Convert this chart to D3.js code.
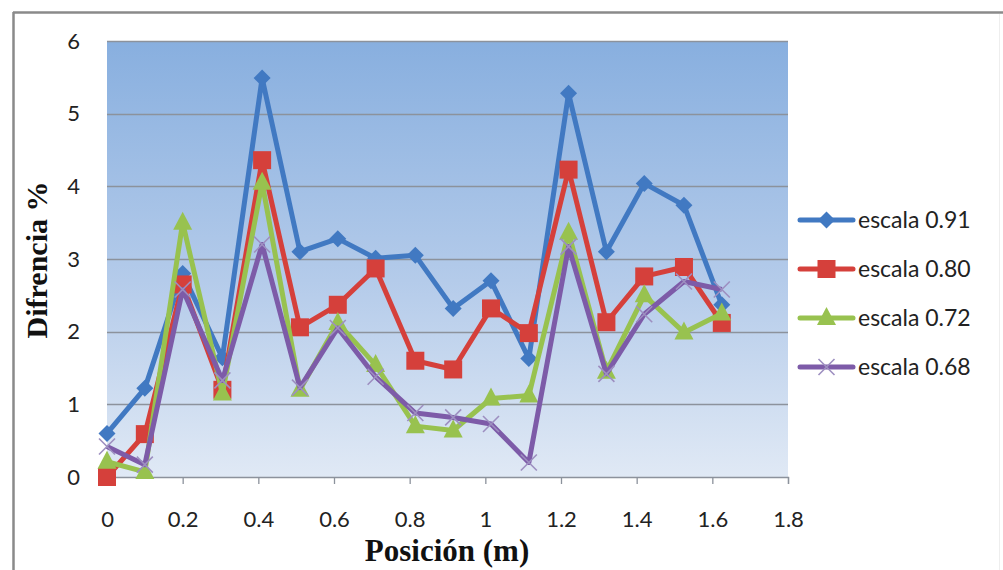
<!DOCTYPE html>
<html>
<head>
<meta charset="utf-8">
<script src="https://cdn.jsdelivr.net/npm/d3@7"></script>
<style>
  html, body { margin: 0; padding: 0; background: #fff; }
  svg { display: block; }
</style>
</head>
<body>
<svg id="chart" width="1003" height="570"></svg>
<script>
// Measurement positions along the section (m)
const posiciones = [0, 0.10, 0.20, 0.305, 0.41, 0.51, 0.61, 0.71, 0.815, 0.915, 1.015, 1.115, 1.22, 1.32, 1.42, 1.525, 1.625];

// Percentage difference for each model scale
const escala091 = [0.60, 1.22, 2.80, 1.64, 5.49, 3.10, 3.28, 3.01, 3.05, 2.32, 2.70, 1.63, 5.28, 3.10, 4.04, 3.74, 2.37];
const escala080 = [0.00, 0.59, 2.65, 1.20, 4.36, 2.06, 2.37, 2.87, 1.60, 1.48, 2.32, 1.98, 4.23, 2.13, 2.76, 2.89, 2.12];
const escala072 = [0.21, 0.07, 3.50, 1.15, 4.05, 1.20, 2.12, 1.54, 0.70, 0.64, 1.08, 1.12, 3.36, 1.45, 2.50, 1.99, 2.25];
const escala068 = [0.42, 0.17, 2.58, 1.33, 3.20, 1.23, 2.05, 1.38, 0.88, 0.82, 0.73, 0.20, 3.17, 1.42, 2.24, 2.69, 2.58];

const seriesNames = ["escala 0.91", "escala 0.80", "escala 0.72", "escala 0.68"];
const seriesValues = [escala091, escala080, escala072, escala068];
const seriesColors = ["#4179c2", "#d5403b", "#98c24f", "#7d5ba8"];
const seriesMarkers = ["diamond", "square", "triangle", "cross"];

const xTicks = [0, 0.2, 0.4, 0.6, 0.8, 1, 1.2, 1.4, 1.6, 1.8];
const yTicks = [0, 1, 2, 3, 4, 5, 6];

const svg = d3.select("#chart");
const plot = { left: 107, right: 788, top: 41, bottom: 477 };

const x = d3.scaleLinear().domain([0, 1.8]).range([plot.left, plot.right]);
const y = d3.scaleLinear().domain([0, 6]).range([plot.bottom, plot.top]);

// Chart frame
svg.append("line").attr("x1", 13).attr("x2", 1003).attr("y1", 12.5).attr("y2", 12.5)
  .attr("stroke", "#8a8a8a").attr("stroke-width", 2.5);
svg.append("line").attr("x1", 13.5).attr("x2", 13.5).attr("y1", 12).attr("y2", 570)
  .attr("stroke", "#8a8a8a").attr("stroke-width", 2.5);
svg.append("line").attr("x1", 999.5).attr("x2", 999.5).attr("y1", 14).attr("y2", 570)
  .attr("stroke", "#eeeeee").attr("stroke-width", 1);

// Plot area gradient
const defs = svg.append("defs");
const grad = defs.append("linearGradient").attr("id", "plotBg")
  .attr("x1", 0).attr("y1", 0).attr("x2", 0).attr("y2", 1);
grad.append("stop").attr("offset", "0%").attr("stop-color", "#88afdf");
grad.append("stop").attr("offset", "55%").attr("stop-color", "#b4cbea");
grad.append("stop").attr("offset", "100%").attr("stop-color", "#e0e9f5");

svg.append("rect")
  .attr("x", plot.left).attr("y", plot.top)
  .attr("width", plot.right - plot.left).attr("height", plot.bottom - plot.top)
  .attr("fill", "url(#plotBg)");

// Horizontal gridlines
svg.append("g").selectAll("line").data(yTicks.filter(d => d > 0)).join("line")
  .attr("x1", plot.left).attr("x2", plot.right)
  .attr("y1", d => Math.round(y(d)) + 0.5).attr("y2", d => Math.round(y(d)) + 0.5)
  .attr("stroke", "#8c929c").attr("stroke-width", 1.3);

// X axis
const xAxis = svg.append("g")
  .attr("transform", `translate(0,${plot.bottom})`)
  .call(d3.axisBottom(x).tickValues(xTicks).tickFormat(d3.format("")).tickSize(7).tickPadding(27));
xAxis.select(".domain").attr("stroke", "#8c929c").attr("stroke-width", 1.3);
xAxis.selectAll(".tick line").attr("stroke", "#8c929c").attr("stroke-width", 1.3);
xAxis.selectAll("text").attr("font-family", "Lato, 'Open Sans', sans-serif")
  .attr("font-size", 22).attr("fill", "#222");

// Y axis (labels only)
const yAxis = svg.append("g")
  .attr("transform", `translate(${plot.left},0)`)
  .call(d3.axisLeft(y).tickValues(yTicks).tickFormat(d3.format("d")).tickSize(0).tickPadding(27));
yAxis.select(".domain").remove();
yAxis.selectAll("text").attr("font-family", "Lato, 'Open Sans', sans-serif")
  .attr("font-size", 22).attr("fill", "#222");

// Axis titles
svg.append("text")
  .attr("x", 447).attr("y", 561)
  .attr("text-anchor", "middle")
  .attr("font-family", "'Liberation Serif', 'Times New Roman', serif")
  .attr("font-weight", "bold").attr("font-size", 31).attr("fill", "#111")
  .text("Posición (m)");

svg.append("text")
  .attr("transform", "translate(47,260) rotate(-90)")
  .attr("text-anchor", "middle")
  .attr("font-family", "'Liberation Serif', 'Times New Roman', serif")
  .attr("font-weight", "bold").attr("font-size", 30).attr("fill", "#111")
  .text("Difrencia %");

// Marker drawing helper
function drawMarker(g, type, color, cx, cy) {
  if (type === "diamond") {
    g.append("path")
      .attr("d", `M${cx},${cy - 8.5}L${cx + 8.5},${cy}L${cx},${cy + 8.5}L${cx - 8.5},${cy}Z`)
      .attr("fill", color);
  } else if (type === "square") {
    g.append("rect").attr("x", cx - 9).attr("y", cy - 9).attr("width", 18).attr("height", 18)
      .attr("fill", color);
  } else if (type === "triangle") {
    g.append("path")
      .attr("d", `M${cx},${cy - 11}L${cx + 9.5},${cy + 7}L${cx - 9.5},${cy + 7}Z`)
      .attr("fill", color);
  } else if (type === "cross") {
    g.append("path")
      .attr("d", `M${cx - 8},${cy - 8}L${cx + 8},${cy + 8}M${cx - 8},${cy + 8}L${cx + 8},${cy - 8}`)
      .attr("stroke", "#9d8fc0").attr("stroke-width", 1.6).attr("fill", "none");
  }
}

const line = d3.line().x(d => x(d[0])).y(d => y(d[1]));

const seriesLayer = svg.append("g");
seriesValues.forEach((vals, i) => {
  const pts = posiciones.map((p, k) => [p, vals[k]]);
  const g = seriesLayer.append("g");
  g.append("path").datum(pts)
    .attr("d", line)
    .attr("fill", "none")
    .attr("stroke", seriesColors[i])
    .attr("stroke-width", 5)
    .attr("stroke-linejoin", "round");
  pts.forEach(p => drawMarker(g, seriesMarkers[i], seriesColors[i], x(p[0]), y(p[1])));
});

// Legend
const legend = svg.append("g");
seriesNames.forEach((name, i) => {
  const ly = 220 + i * 49;
  const g = legend.append("g");
  g.append("line").attr("x1", 800).attr("x2", 853).attr("y1", ly).attr("y2", ly)
    .attr("stroke", seriesColors[i]).attr("stroke-width", 5).attr("stroke-linecap", "round");
  drawMarker(g, seriesMarkers[i], seriesColors[i], 826.5, ly);
  g.append("text").attr("x", 858).attr("y", ly + 8)
    .attr("font-family", "Lato, 'Open Sans', sans-serif")
    .attr("font-size", 23).attr("fill", "#222")
    .text(name);
});
</script>
</body>
</html>
